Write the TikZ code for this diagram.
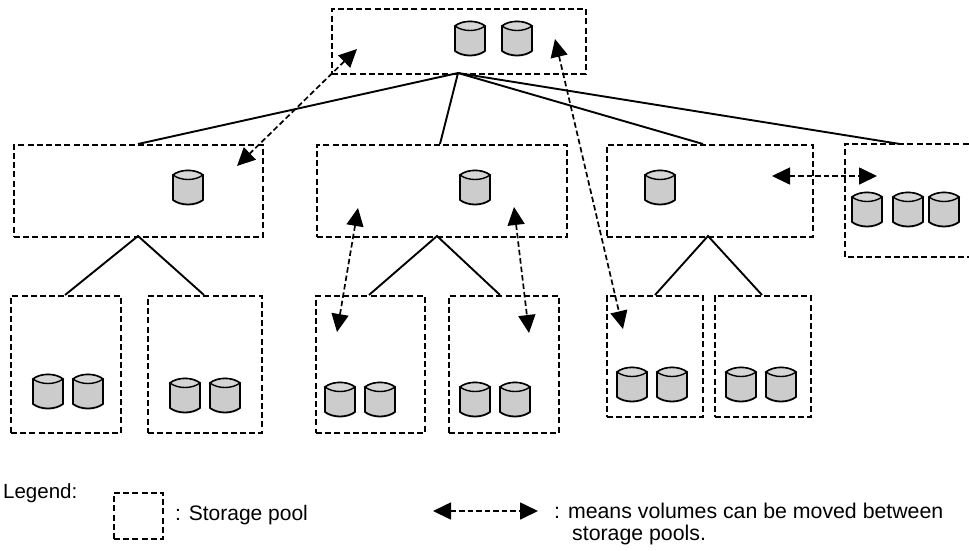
\documentclass[tikz,border=0pt]{standalone}
\usepackage{fontspec}
\setmainfont{Liberation Sans}
\usetikzlibrary{arrows.meta}
\tikzset{
  pool/.style={draw=black,line width=1.8pt,dash pattern=on 6pt off 3.2pt},
  link/.style={draw=black,line width=1.9pt},
  move/.style={draw=black,line width=1.7pt,dash pattern=on 5.5pt off 3pt,{Triangle[length=18pt,width=17pt]}-{Triangle[length=18pt,width=17pt]}},
  label/.style={inner sep=0pt,anchor=base west},
  pics/drum/.style={code={
    \path[fill=black!20,draw=black,line width=1.8pt,line join=round]
      (0,5) -- (0,30) .. controls (8,36) and (22,36) .. (30,30) -- (30,5)
      .. controls (22,-1) and (8,-1) .. (0,5) -- cycle;
    \path[draw=black,line width=1.4pt,fill=black!16] (0,5) .. controls (8,11) and (22,11) .. (30,5)
      .. controls (22,-1) and (8,-1) .. (0,5) -- cycle;
  }}
}
\newcommand{\poolbox}[5]{\node[pool,inner sep=0pt,minimum width=#4*1pt-#2*1pt,minimum height=#5*1pt-#3*1pt,anchor=north west] (#1) at (#2,#3) {};}
\begin{document}
\begin{tikzpicture}[x=1pt,y=-1pt]
\useasboundingbox (0,0) rectangle (969,550);
\poolbox{top}{331}{8}{585}{73}
\poolbox{ma}{13}{144}{262}{236}
\poolbox{mb}{316}{144}{566}{236}
\poolbox{mc}{606}{144}{812}{236}
\path[pool] (968.5,144) -- (845,144) -- (845,257) -- (968.5,257);
\coordinate (md) at (900,144);
\poolbox{la}{10}{295}{120}{432}
\poolbox{lb}{147}{295}{261}{432}
\poolbox{lc}{315}{295}{424}{432}
\poolbox{ld}{448}{295}{558}{432}
\poolbox{le}{606}{295}{702}{416}
\poolbox{lf}{714}{295}{810}{416}
\poolbox{key}{113}{492}{162}{538}
\coordinate (apex) at (458,73);
\path[link] (apex) -- (138,144);
\path[link] (apex) -- (440,144);
\path[link] (apex) -- (703,144);
\path[link] (apex) -- (md);
\coordinate (ja) at (138,236);
\coordinate (jb) at (437,236);
\coordinate (jc) at (708,236);
\path[link] (65,295) -- (ja) -- (204,295);
\path[link] (369,295) -- (jb) -- (500,295);
\path[link] (655,295) -- (jc) -- (762,295);
\foreach \x/\y in {455/21,502/21,173/170,460/170,645/170,852/192,893/192,929/192,
  33/374,73/374,170/378,210/378,325/382,365/382,460/382,500/382,617/367,657/367,726/367,766/367}
  \pic at (\x,\y) {drum};
\coordinate (a1) at (357,49); \coordinate (a2) at (237,166);
\coordinate (b1) at (555,39); \coordinate (b2) at (623,329);
\coordinate (c1) at (772,176); \coordinate (c2) at (877,176);
\coordinate (d1) at (358,208); \coordinate (d2) at (337,332);
\coordinate (e1) at (514,207); \coordinate (e2) at (529,333);
\coordinate (f1) at (433,511); \coordinate (f2) at (538,511);
\path[move] (a1) -- (a2);
\path[move] (b1) -- (b2);
\path[move] (c1) -- (c2);
\path[move] (d1) -- (d2);
\path[move] (e1) -- (e2);
\path[move] (f1) -- (f2);
\node[label,font=\fontsize{20.5}{24}\selectfont] (t1) at (3,498) {Legend:};
\node[label,font=\fontsize{21}{24}\selectfont] (t2) at (175,520) {: Storage pool};
\node[label,font=\fontsize{21.3}{24}\selectfont] (t3) at (554,518) {: means volumes can be moved between};
\node[label,font=\fontsize{21.3}{24}\selectfont] (t4) at (572,540) {storage pools.};
\end{tikzpicture}
\end{document}
